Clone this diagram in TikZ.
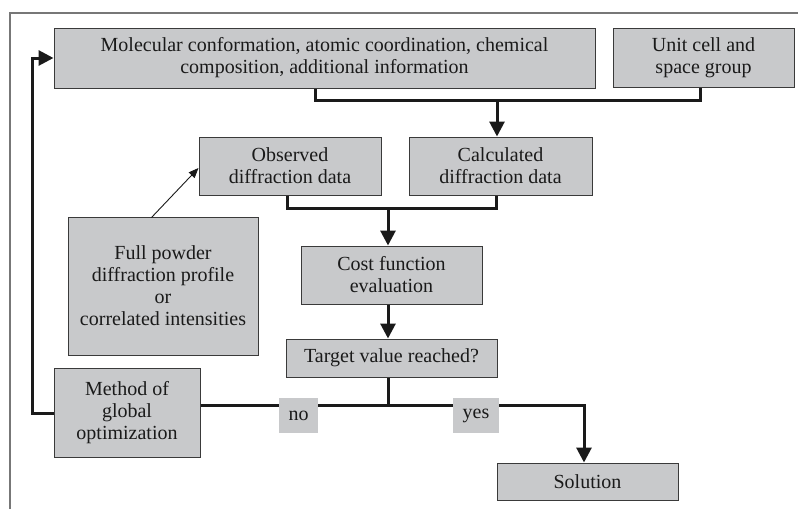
\documentclass[tikz,border=0pt]{standalone}
\usepackage{fontspec}
\setmainfont{Liberation Serif}
\usetikzlibrary{arrows.meta,calc}
\definecolor{boxfill}{HTML}{C8C9CB}
\definecolor{boxline}{HTML}{3A3A3A}
\definecolor{framegray}{HTML}{777777}
\definecolor{ink}{HTML}{1A1A1A}
\tikzset{
 box/.style={draw=boxline, line width=1pt, fill=boxfill, inner sep=0pt, align=center, text=ink, font=\fontsize{20}{22}\selectfont},
 lbl/.style={fill=boxfill, inner sep=0pt, text=ink, font=\fontsize{20}{22}\selectfont},
 conn/.style={draw=ink, line width=3pt},
 arr/.style={conn, -{Triangle[length=15pt,width=15pt]}},
 thinarr/.style={draw=ink, line width=0.9pt, -{Triangle[length=10pt,width=8pt]}},
 framestyle/.style={draw=framegray, line width=1.2pt},
}
\begin{document}
\begin{tikzpicture}[x=1pt,y=-1pt]
\useasboundingbox (0,0) rectangle (798,509);
\draw[framestyle] (10,509) -- (10,13) -- (798,13);

\node[box, minimum width=541pt, minimum height=60pt] (mol) at (324.5,58) {Molecular conformation, atomic coordination, chemical\\composition, additional information};
\node[box, minimum width=181pt, minimum height=59pt] (unit) at (703.5,57.5) {Unit cell and\\space group};
\node[box, minimum width=182pt, minimum height=58pt] (obs) at (290,166) {Observed\\diffraction data};
\node[box, minimum width=183pt, minimum height=58pt] (calc) at (500.5,166) {Calculated\\diffraction data};
\node[box, minimum width=181pt, minimum height=58pt] (cost) at (391.5,275) {Cost function\\evaluation};
\node[box, minimum width=211pt, minimum height=38pt] (target) at (391.5,358) {Target value reached?};
\node[box, minimum width=190pt, minimum height=138pt] (full) at (163,286) {Full powder\\diffraction profile\\or\\correlated intensities};
\node[box, minimum width=146pt, minimum height=89pt] (method) at (127,412.5) {Method of\\global\\optimization};
\node[box, minimum width=181pt, minimum height=37pt] (sol) at (587.5,481.5) {Solution};

\coordinate (j1) at (497,100);
\coordinate (mA) at (315,100);
\coordinate (j2) at (388,208);
\coordinate (oA) at (287,208);
\coordinate (cA) at (496,208);
\coordinate (j3) at (388,405);
\coordinate (sA) at (584,405);
\coordinate (fb) at (32,413);
\coordinate (fbt) at (32,58);
\coordinate (uA) at (700,100);

% top merge
\draw[conn] (mA |- mol.south) -- (mA) -- (uA) -- (uA |- unit.south);
\draw[arr] (j1) -- (j1 |- calc.north);
% middle merge
\draw[conn] (oA |- obs.south) -- (oA) -- (cA) -- (cA |- calc.south);
\draw[arr] (j2) -- (j2 |- cost.north);
\draw[arr] (j2 |- cost.south) -- (j2 |- target.north);
% decision
\draw[conn] (j3 |- target.south) -- (j3);
\draw[arr] (method.east |- j3) -- (sA) -- (sA |- sol.north);
% feedback
\draw[arr] (method.west |- fb) -- (fb) -- (fbt) -- (mol.west |- fbt);
% thin arrow
\draw[thinarr] (full.north west) ++(84pt,-1pt) coordinate (fA) (fA) -- (obs.west |- 0,168);

\node[lbl, minimum width=39pt, minimum height=35pt] (no) at (298.5,415.5) {no};
\node[lbl, minimum width=46pt, minimum height=35pt] (yes) at (476,415.5) {yes};
\end{tikzpicture}
\end{document}
